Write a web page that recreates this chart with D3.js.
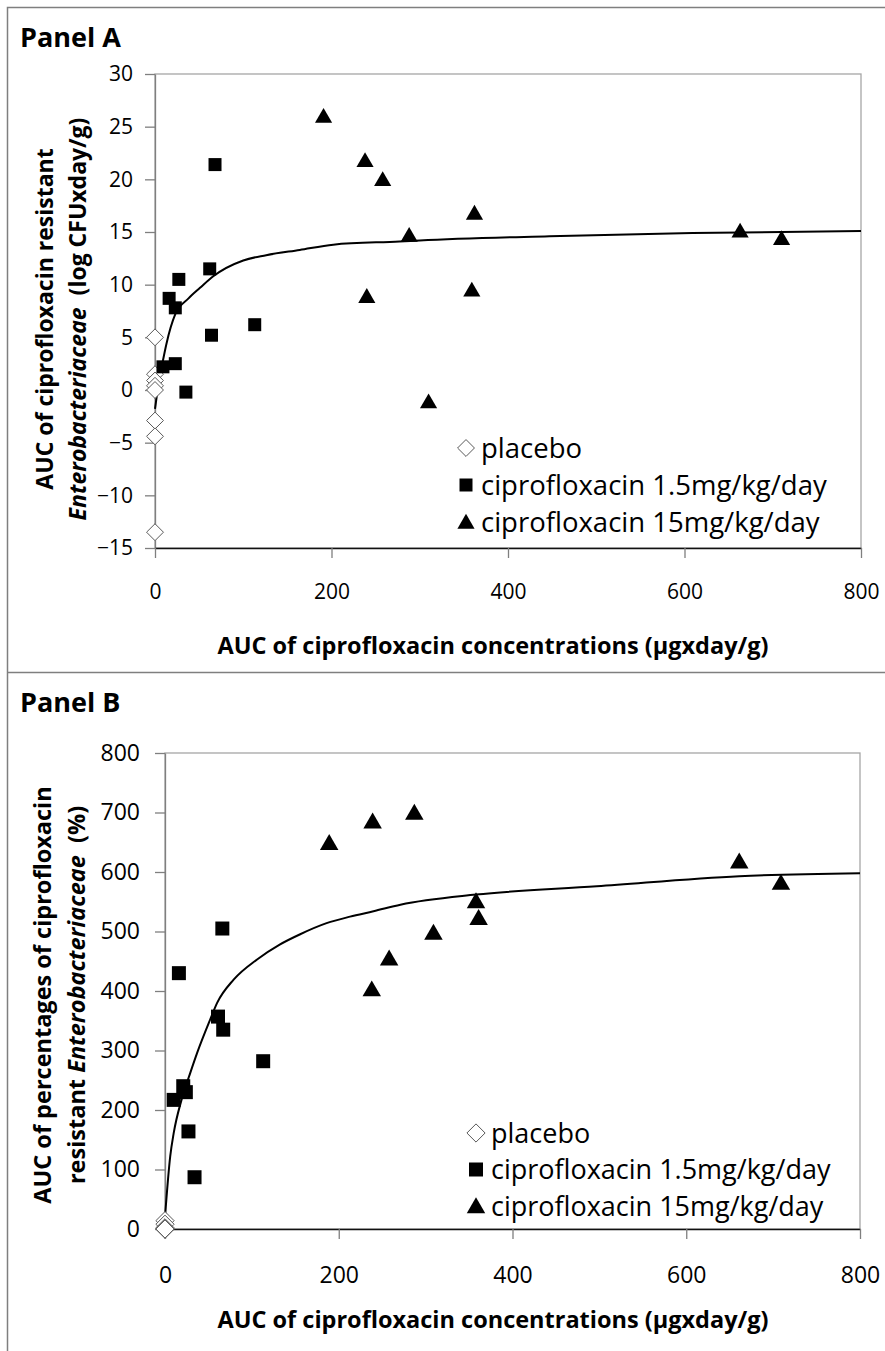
<!DOCTYPE html>
<html>
<head>
<meta charset="utf-8">
<script src="https://cdn.jsdelivr.net/npm/d3@7"></script>
<style>
body { margin: 0; background: #fff; }
text { font-family: "Open Sans", sans-serif; fill: #000; white-space: pre; }
</style>
</head>
<body>
<div id="chart"></div>
<script>
// ---- Panel A: AUC of resistant Enterobacteriaceae (log CFU x day/g)
var placeboA_x = [0, 0, 0, 0, 0, 0, 0, 0];
var placeboA_y = [5, 1.5, 0.9, 0.4, 0, -2.9, -4.4, -13.5];
var lowA_x = [68, 62, 27, 16, 23, 64, 113, 9, 23, 35];
var lowA_y = [21.4, 11.5, 10.5, 8.7, 7.8, 5.2, 6.2, 2.2, 2.5, -0.2];
var highA_x = [191, 238, 258, 362, 288, 663, 710, 240, 359, 310];
var highA_y = [26, 21.8, 20, 16.8, 14.7, 15.1, 14.4, 8.9, 9.5, -1.1];
var fitA_x = [0, 1, 4, 9, 13, 23, 38, 51, 66, 100, 126, 164, 202, 277, 300, 447, 609, 800];
var fitA_y = [-1.8, -1.2, 0.6, 2.8, 4.4, 7.2, 8.7, 9.7, 10.8, 12.3, 12.8, 13.3, 13.8, 14.1, 14.2, 14.6, 14.9, 15.1];
var yTicksA = [-15, -10, -5, 0, 5, 10, 15, 20, 25, 30];

// ---- Panel B: AUC of percentages of resistant Enterobacteriaceae (%)
var placeboB_x = [0, 0, 0, 0, 0, 0, 0, 0];
var placeboB_y = [14, 8, 2, 0, 0, 0, 0, 0];
var lowB_x = [66, 16, 61, 67, 113, 21, 24, 10, 27, 34];
var lowB_y = [505, 430, 357, 335, 282, 240, 230, 217, 164, 87];
var highB_x = [189, 239, 287, 661, 709, 358, 361, 309, 258, 238];
var highB_y = [649, 685, 700, 618, 582, 551, 523, 498, 455, 403];
var fitB_x = [0, 6, 10, 19, 29, 37, 52, 60, 79, 106, 132, 155, 186, 213, 240, 271, 358, 497, 661, 800];
var fitB_y = [20, 122, 161, 217, 262, 296, 352, 380, 419, 453, 478, 495, 514, 525, 534, 545, 562, 576, 593, 598];
var yTicksB = [0, 100, 200, 300, 400, 500, 600, 700, 800];

var xTicks = [0, 200, 400, 600, 800];
var seriesNames = ["placebo", "ciprofloxacin 1.5mg/kg/day", "ciprofloxacin 15mg/kg/day"];

var svg = d3.select("#chart").append("svg")
  .attr("width", 885).attr("height", 1351);

// outer frame + divider
svg.append("path").attr("d", "M7.5,1351 V7.5 H885").attr("fill", "none").attr("stroke", "#7f7f7f").attr("stroke-width", 1.5);
svg.append("line").attr("x1", 7).attr("x2", 885).attr("y1", 672.5).attr("y2", 672.5).attr("stroke", "#7f7f7f").attr("stroke-width", 1.5);

function markerPath(kind, s) {
  if (kind == "diamond") return "M0," + (-s) + "L" + s + ",0L0," + s + "L" + (-s) + ",0Z";
  if (kind == "square") return "M" + (-s) + "," + (-s) + "H" + s + "V" + s + "H" + (-s) + "Z";
  return "M0," + (-s * 1.05) + "L" + (s * 1.1) + "," + (s * 0.85) + "H" + (-s * 1.1) + "Z";
}

function drawPanel(p) {
  var g = svg.append("g");
  var x = d3.scaleLinear().domain([0, 800]).range(p.xRange);
  var y = d3.scaleLinear().domain(p.yDomain).range(p.yRange);

  g.append("text").attr("x", 20).attr("y", p.titleY)
    .style("font-size", "27px").style("font-weight", "bold").text(p.title);

  // plot area border
  g.append("rect")
    .attr("x", p.xRange[0]).attr("y", p.yRange[1])
    .attr("width", p.xRange[1] - p.xRange[0]).attr("height", p.yRange[0] - p.yRange[1])
    .attr("fill", "none").attr("stroke", "#a6a6a6").attr("stroke-width", 1.3);

  var yAxis = g.append("g").attr("transform", "translate(" + p.xRange[0] + ",0)")
    .call(d3.axisLeft(y).tickValues(p.yTicks).tickSize(10).tickSizeOuter(0).tickPadding(p.yPad));
  yAxis.select(".domain").attr("stroke", "#7f7f7f").attr("stroke-width", 1.3);
  yAxis.selectAll(".tick line").attr("stroke", "#7f7f7f").attr("stroke-width", 1.3);
  yAxis.selectAll("text").style("font-size", p.tickFont + "px").style("font-family", "'Open Sans', sans-serif");

  var xAxis = g.append("g").attr("transform", "translate(0," + p.yRange[0] + ")")
    .call(d3.axisBottom(x).tickValues(xTicks).tickSize(10).tickSizeOuter(0).tickPadding(p.xPad));
  xAxis.select(".domain").attr("stroke", "#111").attr("stroke-width", 1.6);
  xAxis.selectAll(".tick line").attr("stroke", "#7f7f7f").attr("stroke-width", 1.3);
  xAxis.selectAll("text").style("font-size", p.tickFont + "px").style("font-family", "'Open Sans', sans-serif");

  // fitted curve
  var line = d3.line().x(function(d){ return x(d[0]); }).y(function(d){ return y(d[1]); }).curve(d3.curveMonotoneX);
  g.append("path").datum(d3.zip(p.fitX, p.fitY))
    .attr("d", line).attr("fill", "none").attr("stroke", "#000").attr("stroke-width", 2);

  var series = [
    {kind: "diamond", xs: p.placeboX, ys: p.placeboY, fill: "#fff", stroke: "#595959", size: p.ms * 1.3},
    {kind: "square", xs: p.lowX, ys: p.lowY, fill: "#000", stroke: "none", size: p.ms},
    {kind: "triangle", xs: p.highX, ys: p.highY, fill: "#000", stroke: "none", size: p.ms * 1.2}
  ];
  series.forEach(function(s) {
    g.append("g").selectAll("path").data(d3.zip(s.xs, s.ys)).enter().append("path")
      .attr("d", markerPath(s.kind, s.size))
      .attr("transform", function(d){ return "translate(" + x(d[0]) + "," + y(d[1]) + ")"; })
      .attr("fill", s.fill).attr("stroke", s.stroke).attr("stroke-width", 1);
  });

  // legend
  var leg = g.append("g").attr("transform", "translate(" + p.legX + "," + p.legY + ")");
  series.forEach(function(s, i) {
    leg.append("path").attr("d", markerPath(s.kind, s.size))
      .attr("transform", "translate(0," + (i * p.legStep) + ")")
      .attr("fill", s.fill).attr("stroke", s.stroke).attr("stroke-width", 1);
    leg.append("text").attr("x", 15).attr("y", i * p.legStep).attr("dy", "0.36em")
      .style("font-size", p.legFont + "px").text(seriesNames[i]);
  });

  // axis titles
  g.append("text").attr("x", 493).attr("y", p.xTitleY)
    .attr("text-anchor", "middle").style("font-size", "23.5px").style("font-weight", "bold")
    .text("AUC of ciprofloxacin concentrations (\u00b5gxday/g)");

  var yt = g.append("text").attr("transform", "translate(0," + p.yTitleC + ") rotate(-90)")
    .attr("text-anchor", "middle").style("font-size", p.yTitleFont + "px").style("font-weight", "bold");
  yt.append("tspan").attr("x", 0).attr("y", p.yTitleX[0]).text(p.yTitle1);
  var l2 = yt.append("tspan").attr("x", 0).attr("y", p.yTitleX[1]);
  l2.append("tspan").text(p.yTitle2a);
  l2.append("tspan").style("font-style", "italic").text("Enterobacteriaceae");
  l2.append("tspan").text(p.yTitle2b);
}

drawPanel({
  title: "Panel A", titleY: 47,
  xRange: [155, 861], yDomain: [-15, 30], yRange: [548, 74], yTicks: yTicksA,
  yPad: 12, xPad: 26, tickFont: 21, ms: 6.5,
  placeboX: placeboA_x, placeboY: placeboA_y, lowX: lowA_x, lowY: lowA_y,
  highX: highA_x, highY: highA_y, fitX: fitA_x, fitY: fitA_y,
  legX: 466, legY: 448, legStep: 37, legFont: 27.5,
  xTitleY: 654, yTitleC: 319, yTitleFont: 23, yTitleX: [53, 86],
  yTitle1: "AUC of ciprofloxacin resistant", yTitle2a: "", yTitle2b: "  (log CFUxday/g)"
});

drawPanel({
  title: "Panel B", titleY: 712,
  xRange: [165, 860], yDomain: [0, 800], yRange: [1229, 753], yTicks: yTicksB,
  yPad: 15, xPad: 28, tickFont: 23, ms: 7,
  placeboX: placeboB_x, placeboY: placeboB_y, lowX: lowB_x, lowY: lowB_y,
  highX: highB_x, highY: highB_y, fitX: fitB_x, fitY: fitB_y,
  legX: 476, legY: 1133, legStep: 36.5, legFont: 27,
  xTitleY: 1328, yTitleC: 995, yTitleFont: 23.5, yTitleX: [51, 85],
  yTitle1: "AUC of percentages of ciprofloxacin", yTitle2a: "resistant ", yTitle2b: "  (%)"
});
</script>
</body>
</html>
